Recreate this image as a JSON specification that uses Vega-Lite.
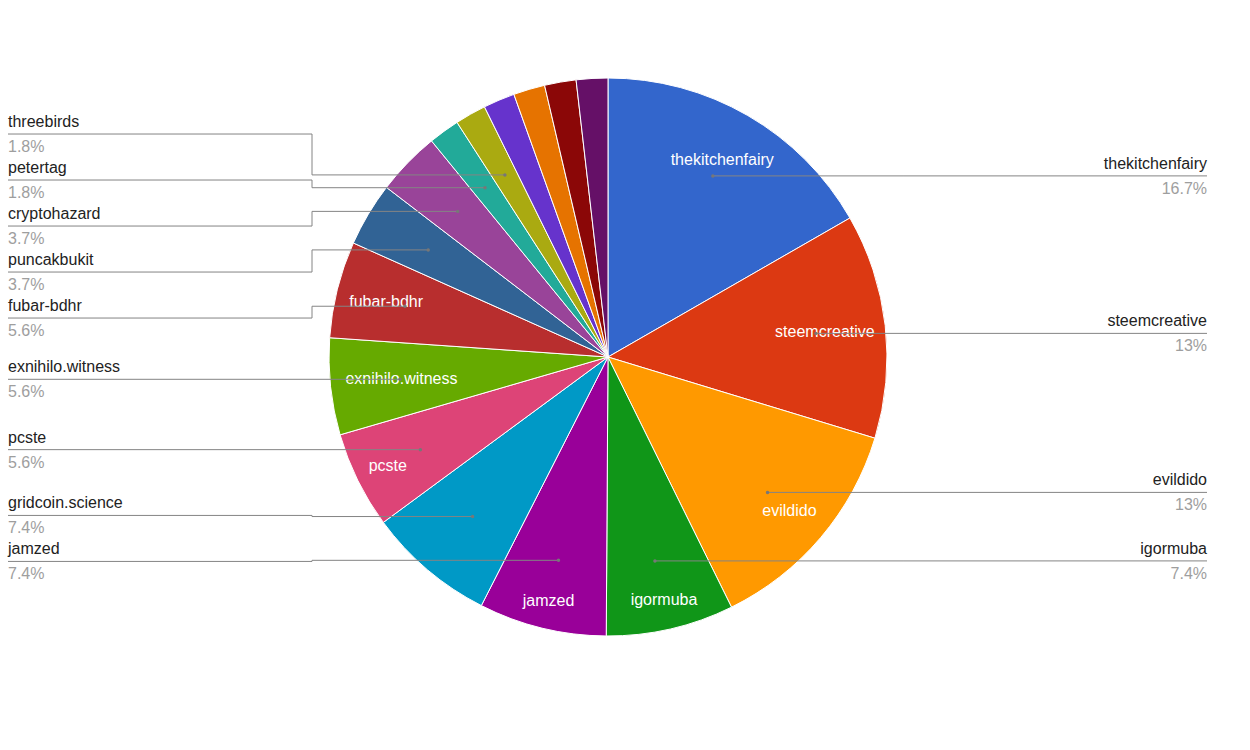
{
  "$schema": "https://vega.github.io/schema/vega-lite/v6.json",
  "width": 1250,
  "height": 750,
  "padding": 0,
  "autosize": {"type": "fit", "contains": "padding"},
  "background": "white",
  "view": {"stroke": null},
  "config": {"text": {"font": "Liberation Sans", "fontSize": 16}},
  "data": {
    "values": [
      {"name": "thekitchenfairy", "share": 16.7},
      {"name": "steemcreative", "share": 13},
      {"name": "evildido", "share": 13},
      {"name": "igormuba", "share": 7.4},
      {"name": "jamzed", "share": 7.4},
      {"name": "gridcoin.science", "share": 7.4},
      {"name": "pcste", "share": 5.6},
      {"name": "exnihilo.witness", "share": 5.6},
      {"name": "fubar-bdhr", "share": 5.6},
      {"name": "puncakbukit", "share": 3.7},
      {"name": "cryptohazard", "share": 3.7},
      {"name": "petertag", "share": 1.8},
      {"name": "threebirds", "share": 1.8},
      {"name": "other 1", "share": 1.825},
      {"name": "other 2", "share": 1.825},
      {"name": "other 3", "share": 1.825},
      {"name": "other 4", "share": 1.825}
    ]
  },
  "transform": [
    {"window": [{"op": "row_number", "as": "idx"}, {"op": "sum", "field": "share", "as": "cum"}]},
    {"joinaggregate": [{"op": "sum", "field": "share", "as": "total"}]},
    {"calculate": "2*PI*(datum.cum - datum.share/2)/datum.total", "as": "mid"},
    {"calculate": "sin(datum.mid)", "as": "sn"},
    {"calculate": "cos(datum.mid)", "as": "cs"},
    {"calculate": "0.75*datum.sn", "as": "dotX"},
    {"calculate": "0.75*datum.cs", "as": "dotY"},
    {"calculate": "datum.idx > 13 ? 'none' : (datum.sn >= 0 ? 'right' : 'left')", "as": "side"},
    {"calculate": "format(datum.share/datum.total*100, '.3~g') + '%'", "as": "pctLabel"},
    {"window": [{"op": "lag", "field": "dotY", "as": "p1"}], "groupby": ["side"], "sort": [{"field": "dotY", "order": "descending"}]},
    {"calculate": "!isValid(datum.p1) || datum.p1 - datum.dotY > 0.165 ? 1 : 0", "as": "b1"},
    {"window": [{"op": "sum", "field": "b1", "as": "c1"}], "groupby": ["side"], "sort": [{"field": "dotY", "order": "descending"}]},
    {"joinaggregate": [{"op": "mean", "field": "dotY", "as": "m1"}, {"op": "count", "as": "n1"}], "groupby": ["side", "c1"]},
    {"window": [{"op": "row_number", "as": "r1"}], "groupby": ["side", "c1"], "sort": [{"field": "dotY", "order": "descending"}]},
    {"calculate": "datum.m1 - (datum.r1 - 1 - (datum.n1 - 1)/2)*0.1649", "as": "ly1"},
    {"window": [{"op": "lag", "field": "ly1", "as": "p2"}], "groupby": ["side"], "sort": [{"field": "dotY", "order": "descending"}]},
    {"calculate": "!isValid(datum.p2) || datum.p2 - datum.ly1 > 0.165 ? 1 : 0", "as": "b2"},
    {"window": [{"op": "sum", "field": "b2", "as": "c2"}], "groupby": ["side"], "sort": [{"field": "dotY", "order": "descending"}]},
    {"joinaggregate": [{"op": "mean", "field": "dotY", "as": "m2"}, {"op": "count", "as": "n2"}], "groupby": ["side", "c2"]},
    {"window": [{"op": "row_number", "as": "r2"}], "groupby": ["side", "c2"], "sort": [{"field": "dotY", "order": "descending"}]},
    {"calculate": "datum.m2 - (datum.r2 - 1 - (datum.n2 - 1)/2)*0.1649", "as": "ly2"},
    {"window": [{"op": "lag", "field": "ly2", "as": "p3"}], "groupby": ["side"], "sort": [{"field": "dotY", "order": "descending"}]},
    {"calculate": "!isValid(datum.p3) || datum.p3 - datum.ly2 > 0.165 ? 1 : 0", "as": "b3"},
    {"window": [{"op": "sum", "field": "b3", "as": "c3"}], "groupby": ["side"], "sort": [{"field": "dotY", "order": "descending"}]},
    {"joinaggregate": [{"op": "mean", "field": "dotY", "as": "m3"}, {"op": "count", "as": "n3"}], "groupby": ["side", "c3"]},
    {"window": [{"op": "row_number", "as": "r3"}], "groupby": ["side", "c3"], "sort": [{"field": "dotY", "order": "descending"}]},
    {"calculate": "datum.m3 - (datum.r3 - 1 - (datum.n3 - 1)/2)*0.1649", "as": "ly"},
    {"calculate": "datum.side == 'left' ? -2.1505 : 2.147", "as": "lx"},
    {"calculate": "datum.side == 'left' ? -1.0609 : 1.0609", "as": "ex"},
    {"calculate": "length(datum.name)*3.55/279", "as": "ha"},
    {"calculate": "abs(datum.sn)*datum.ha + abs(datum.cs)*0.0287", "as": "iq"},
    {"calculate": "-datum.iq + sqrt(datum.iq*datum.iq - (datum.ha*datum.ha + 0.0287*0.0287 - 0.9025))", "as": "it"},
    {"calculate": "datum.it*datum.sn", "as": "ix"},
    {"calculate": "datum.it*datum.cs", "as": "iy"}
  ],
  "layer": [
    {
      "mark": {"type": "arc", "outerRadius": 279, "stroke": "white", "strokeWidth": 1},
      "encoding": {
        "x": {"datum": 0, "type": "quantitative", "scale": {"domain": [-2.179211, 2.301075], "nice": false, "zero": false}, "axis": null},
        "y": {"datum": 0, "type": "quantitative", "scale": {"domain": [-1.408602, 1.27957], "nice": false, "zero": false}, "axis": null},
        "theta": {"field": "share", "type": "quantitative", "stack": true},
        "order": {"field": "idx", "type": "quantitative"},
        "color": {
          "field": "name", "type": "nominal", "legend": null,
          "scale": {
            "domain": ["thekitchenfairy", "steemcreative", "evildido", "igormuba", "jamzed", "gridcoin.science", "pcste", "exnihilo.witness", "fubar-bdhr", "puncakbukit", "cryptohazard", "petertag", "threebirds", "other 1", "other 2", "other 3", "other 4"],
            "range": ["#3366cc", "#dc3912", "#ff9900", "#109618", "#990099", "#0099c6", "#dd4477", "#66aa00", "#b82e2e", "#316395", "#994499", "#22aa99", "#aaaa11", "#6633cc", "#e67300", "#8b0707", "#651067"]
          }
        }
      }
    },
    {
      "transform": [{"filter": "datum.share >= 5 && datum.name != 'gridcoin.science'"}],
      "mark": {"type": "text", "color": "white", "align": "center", "baseline": "middle", "font": "Liberation Sans", "fontSize": 16},
      "encoding": {
        "x": {"field": "ix", "type": "quantitative", "scale": {"domain": [-2.179211, 2.301075], "nice": false, "zero": false}, "axis": null},
        "y": {"field": "iy", "type": "quantitative", "scale": {"domain": [-1.408602, 1.27957], "nice": false, "zero": false}, "axis": null},
        "text": {"field": "name"}
      }
    },
    {
      "transform": [{"filter": "datum.side != 'none'"}],
      "mark": {"type": "rule", "color": "#848484", "strokeWidth": 1},
      "encoding": {
        "x": {"field": "lx", "type": "quantitative", "scale": {"domain": [-2.179211, 2.301075], "nice": false, "zero": false}, "axis": null},
        "x2": {"field": "ex"},
        "y": {"field": "ly", "type": "quantitative", "scale": {"domain": [-1.408602, 1.27957], "nice": false, "zero": false}, "axis": null},
        "y2": {"field": "ly"}
      }
    },
    {
      "transform": [{"filter": "datum.side != 'none'"}],
      "mark": {"type": "rule", "color": "#848484", "strokeWidth": 1},
      "encoding": {
        "x": {"field": "ex", "type": "quantitative", "scale": {"domain": [-2.179211, 2.301075], "nice": false, "zero": false}, "axis": null},
        "x2": {"field": "ex"},
        "y": {"field": "ly", "type": "quantitative", "scale": {"domain": [-1.408602, 1.27957], "nice": false, "zero": false}, "axis": null},
        "y2": {"field": "dotY"}
      }
    },
    {
      "transform": [{"filter": "datum.side != 'none'"}],
      "mark": {"type": "rule", "color": "#848484", "strokeWidth": 1},
      "encoding": {
        "x": {"field": "ex", "type": "quantitative", "scale": {"domain": [-2.179211, 2.301075], "nice": false, "zero": false}, "axis": null},
        "x2": {"field": "dotX"},
        "y": {"field": "dotY", "type": "quantitative", "scale": {"domain": [-1.408602, 1.27957], "nice": false, "zero": false}, "axis": null},
        "y2": {"field": "dotY"}
      }
    },
    {
      "transform": [{"filter": "datum.side != 'none'"}],
      "mark": {"type": "point", "filled": true, "color": "#777777", "size": 12, "opacity": 1},
      "encoding": {
        "x": {"field": "dotX", "type": "quantitative", "scale": {"domain": [-2.179211, 2.301075], "nice": false, "zero": false}, "axis": null},
        "y": {"field": "dotY", "type": "quantitative", "scale": {"domain": [-1.408602, 1.27957], "nice": false, "zero": false}, "axis": null}
      }
    },
    {
      "transform": [{"filter": "datum.side == 'left'"}],
      "mark": {"type": "text", "align": "left", "baseline": "alphabetic", "dy": -7, "color": "#222222", "font": "Liberation Sans", "fontSize": 16},
      "encoding": {
        "x": {"field": "lx", "type": "quantitative", "scale": {"domain": [-2.179211, 2.301075], "nice": false, "zero": false}, "axis": null},
        "y": {"field": "ly", "type": "quantitative", "scale": {"domain": [-1.408602, 1.27957], "nice": false, "zero": false}, "axis": null},
        "text": {"field": "name"}
      }
    },
    {
      "transform": [{"filter": "datum.side == 'left'"}],
      "mark": {"type": "text", "align": "left", "baseline": "alphabetic", "dy": 18, "color": "#9e9e9e", "font": "Liberation Sans", "fontSize": 16},
      "encoding": {
        "x": {"field": "lx", "type": "quantitative", "scale": {"domain": [-2.179211, 2.301075], "nice": false, "zero": false}, "axis": null},
        "y": {"field": "ly", "type": "quantitative", "scale": {"domain": [-1.408602, 1.27957], "nice": false, "zero": false}, "axis": null},
        "text": {"field": "pctLabel"}
      }
    },
    {
      "transform": [{"filter": "datum.side == 'right'"}],
      "mark": {"type": "text", "align": "right", "baseline": "alphabetic", "dy": -7, "color": "#222222", "font": "Liberation Sans", "fontSize": 16},
      "encoding": {
        "x": {"field": "lx", "type": "quantitative", "scale": {"domain": [-2.179211, 2.301075], "nice": false, "zero": false}, "axis": null},
        "y": {"field": "ly", "type": "quantitative", "scale": {"domain": [-1.408602, 1.27957], "nice": false, "zero": false}, "axis": null},
        "text": {"field": "name"}
      }
    },
    {
      "transform": [{"filter": "datum.side == 'right'"}],
      "mark": {"type": "text", "align": "right", "baseline": "alphabetic", "dy": 18, "color": "#9e9e9e", "font": "Liberation Sans", "fontSize": 16},
      "encoding": {
        "x": {"field": "lx", "type": "quantitative", "scale": {"domain": [-2.179211, 2.301075], "nice": false, "zero": false}, "axis": null},
        "y": {"field": "ly", "type": "quantitative", "scale": {"domain": [-1.408602, 1.27957], "nice": false, "zero": false}, "axis": null},
        "text": {"field": "pctLabel"}
      }
    }
  ]
}
